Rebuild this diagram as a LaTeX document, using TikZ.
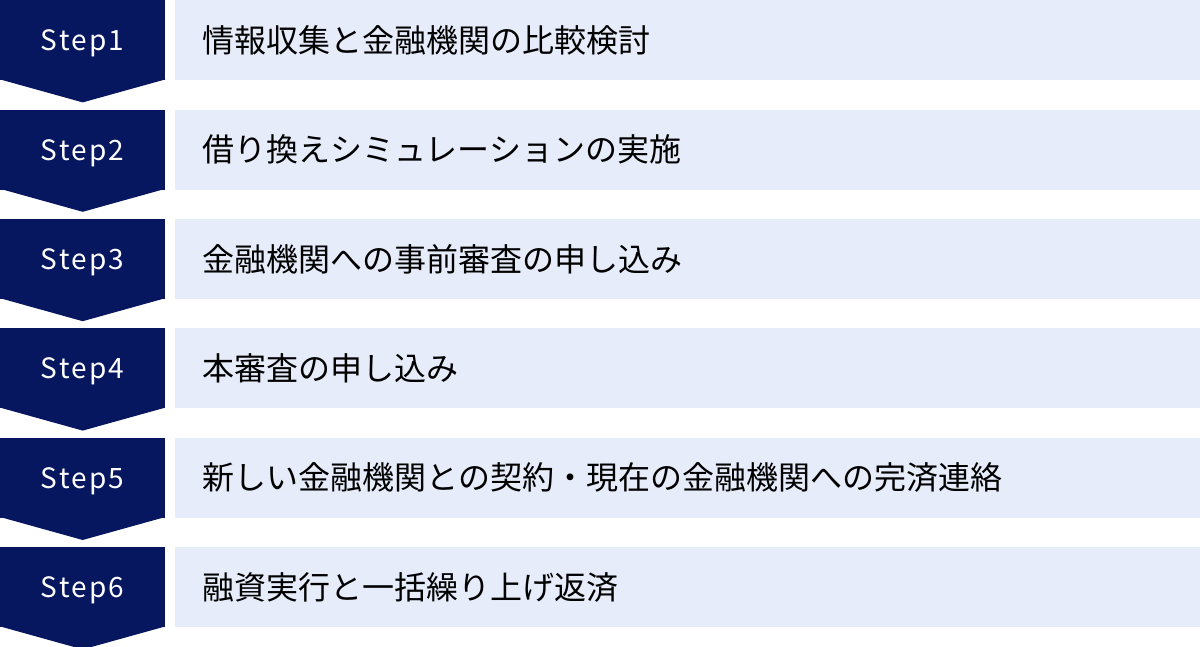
\documentclass[tikz,border=0pt]{standalone}
\usepackage{fontspec}
\setmainfont{Noto Sans CJK JP}
\newfontfamily\stepfont[LetterSpace=8]{Noto Sans CJK JP}
\usetikzlibrary{calc,positioning}
\definecolor{stepnavy}{RGB}{7,23,95}
\definecolor{steplight}{RGB}{230,236,250}
\tikzset{
    step badge/.style = {
        fill = stepnavy,
        text = white,
        minimum width=165pt,
        minimum height=80pt,
        inner sep=0pt,
        text depth=0pt,
        font=\stepfont\fontsize{28}{30}\selectfont,
        },
    step tip/.style = {
        fill = stepnavy,
        },
    step text/.style = {
        fill = steplight,
        text = black,
        minimum width=1026pt,
        minimum height=80pt,
        text width=970pt,
        align=left,
        inner xsep=28pt,
        inner ysep=0pt,
        font=\fontsize{32}{34}\selectfont,
        },
}
\begin{document}
\begin{tikzpicture}[node distance=29pt]
            \useasboundingbox (0,0) rectangle (1200pt,-647pt);

            \node[step badge, anchor=north west] (s1) at (0,0) {Step1};
            \node[step badge, below=of s1] (s2) {Step2};
            \node[step badge, below=of s2] (s3) {Step3};
            \node[step badge, below=of s3] (s4) {Step4};
            \node[step badge, below=of s4] (s5) {Step5};
            \node[step badge, below=of s5] (s6) {Step6};

            \node[step text, right=9pt of s1] (t1) {情報収集と金融機関の比較検討};
            \node[step text, right=9pt of s2] (t2) {借り換えシミュレーションの実施};
            \node[step text, right=9pt of s3] (t3) {金融機関への事前審査の申し込み};
            \node[step text, right=9pt of s4] (t4) {本審査の申し込み};
            \node[step text, right=9pt of s5] (t5) {新しい金融機関との契約・現在の金融機関への完済連絡};
            \node[step text, right=9pt of s6] (t6) {融資実行と一括繰り上げ返済};

            % arrow tips below the badges, overlapping by 1pt
            \fill[step tip] ($(s1.south west)+(0,1pt)$) -- ($(s1.south east)+(0,1pt)$) -- ($(s1.south)+(0,-22pt)$) -- cycle;
            \fill[step tip] ($(s2.south west)+(0,1pt)$) -- ($(s2.south east)+(0,1pt)$) -- ($(s2.south)+(0,-22pt)$) -- cycle;
            \fill[step tip] ($(s3.south west)+(0,1pt)$) -- ($(s3.south east)+(0,1pt)$) -- ($(s3.south)+(0,-22pt)$) -- cycle;
            \fill[step tip] ($(s4.south west)+(0,1pt)$) -- ($(s4.south east)+(0,1pt)$) -- ($(s4.south)+(0,-22pt)$) -- cycle;
            \fill[step tip] ($(s5.south west)+(0,1pt)$) -- ($(s5.south east)+(0,1pt)$) -- ($(s5.south)+(0,-22pt)$) -- cycle;
            \fill[step tip] ($(s6.south west)+(0,1pt)$) -- ($(s6.south east)+(0,1pt)$) -- ($(s6.south)+(0,-22pt)$) -- cycle;
\end{tikzpicture}
\end{document}
